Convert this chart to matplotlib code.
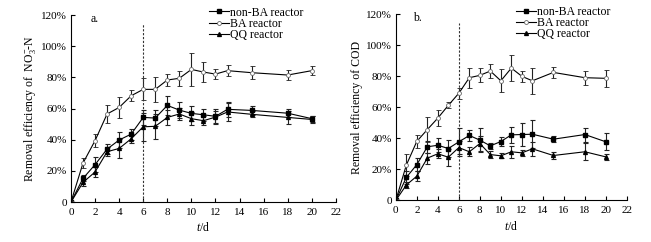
import matplotlib
matplotlib.use("Agg")
import matplotlib.pyplot as plt
import numpy as np

plt.rcParams['font.family'] = ['Liberation Serif', 'DejaVu Serif']
plt.rcParams['mathtext.fontset'] = 'custom'
plt.rcParams['mathtext.rm'] = 'Liberation Serif'
plt.rcParams['mathtext.it'] = 'Liberation Serif:italic'

t = [0, 1, 2, 3, 4, 5, 6, 7, 8, 9, 10, 11, 12, 13, 15, 18, 20]

# Panel a: NO3--N removal (%)
a_nonba = [0, 15.2, 24, 34, 39.8, 43.6, 54.3, 53.9, 62, 59, 56.9, 56, 55, 59.5, 58.8, 57, 53.5]
a_nonba_err = [0, 2, 5, 3, 5, 3.5, 5, 5, 6, 5, 5, 4, 5, 5, 3, 2.5, 2]
a_ba = [0, 25, 39.4, 56.5, 60.7, 68.2, 72.3, 72.3, 78.3, 79.4, 85.1, 83.4, 82.1, 84.3, 83, 81.5, 84.3]
a_ba_err = [0, 3, 4, 5.8, 7, 3.4, 7, 8, 4, 5, 10.5, 6.4, 3.2, 3.6, 4, 3.4, 2.8]
a_qq = [0, 12.6, 19.3, 32.3, 34.4, 40.6, 48.3, 48.6, 54.3, 56.5, 53.5, 52.2, 54.5, 57.8, 56.3, 54.3, 53]
a_qq_err = [0, 2, 3.5, 3, 6, 3, 9, 8, 5, 4, 4, 3, 4, 6, 2, 4, 2]

# Panel b: COD removal (%)
b_nonba = [0, 14.8, 23, 34.5, 35.5, 33.4, 37.7, 41.8, 38.8, 35.1, 37.9, 42.2, 42.4, 42.6, 39.4, 42.4, 37.7]
b_nonba_err = [0, 4, 4, 4, 4.5, 5.5, 9, 3.5, 7.5, 2, 3, 5, 7.5, 9, 2, 4.5, 5.5]
b_ba = [0, 22.7, 38, 45.6, 53, 61.2, 69, 79, 80.5, 83.3, 77, 85.2, 79.9, 77, 82.4, 79, 78.6]
b_ba_err = [0, 7, 4, 8, 5, 2, 3.5, 6.5, 4.5, 4.5, 7.5, 8.5, 3.5, 8.5, 3.5, 4.5, 5.5]
b_qq = [0, 9.9, 15.6, 27.2, 30, 27.8, 34, 31.3, 36.6, 29.5, 28.7, 31.3, 30.6, 33.2, 28.9, 31.3, 28]
b_qq_err = [0, 2, 3, 3.5, 3, 5.5, 4, 3, 5, 2, 1.5, 4, 2, 4.5, 2, 5.5, 2]

labels = ['non-BA reactor', 'BA reactor', 'QQ reactor']
yticks = [0, 20, 40, 60, 80, 100, 120]
ytick_labels = ['0', '20%', '40%', '60%', '80%', '100%', '120%']
xticks = list(range(0, 23, 2))

fig = plt.figure(figsize=(6.51, 2.42), dpi=100)
ax1 = fig.add_axes([0.109, 0.165, 0.407, 0.773])
ax2 = fig.add_axes([0.608, 0.172, 0.355, 0.770])

def draw(ax, nonba, nonba_e, ba, ba_e, qq, qq_e, ylabel, tag):
    kw = dict(color='black', lw=0.8, elinewidth=0.8, capsize=1.8, capthick=0.8, ecolor='#222222')
    c1 = ax.errorbar(t, nonba, yerr=nonba_e, marker='s', ms=2.6, mfc='black', mec='black', **kw)
    c2 = ax.errorbar(t, ba, yerr=ba_e, marker='o', ms=2.8, mfc='white', mec='#666666', mew=0.6, **kw)
    c3 = ax.errorbar(t, qq, yerr=qq_e, marker='^', ms=2.8, mfc='black', mec='black', **kw)
    ax.plot([6, 6], [0, 114], ls=(0, (2, 1.5)), color='#333333', lw=0.8)
    ax.set_xlim(0, 22)
    ax.set_ylim(0, 120)
    ax.set_xticks(xticks)
    ax.set_yticks(yticks)
    ax.set_yticklabels(ytick_labels)
    ax.tick_params(axis='y', direction='in', length=3, width=0.8, labelsize=8, pad=3)
    ax.tick_params(axis='x', direction='in', length=3, width=0.8, labelsize=8, pad=4)
    for s in ['top', 'right']:
        ax.spines[s].set_visible(False)
    for s in ['left', 'bottom']:
        ax.spines[s].set_linewidth(0.8)
    ax.set_xlabel('$t$/d', fontsize=8.5, labelpad=3.5)
    ax.set_ylabel(ylabel, fontsize=8.5, labelpad=2)
    ax.text(1.6, 117.5, tag, fontsize=8.5, ha='left', va='center')
    ax.legend([c1[0], c2[0], c3[0]], labels, loc='upper left', bbox_to_anchor=(0.52, 1.045),
              frameon=False, fontsize=8.5, handlelength=1.7, handletextpad=0.1,
              labelspacing=-0.05, borderaxespad=0.0, borderpad=0.0)

draw(ax1, a_nonba, a_nonba_err, a_ba, a_ba_err, a_qq, a_qq_err,
     r'Removal efficiency of  NO$_3^{-}$-N', 'a.')
draw(ax2, b_nonba, b_nonba_err, b_ba, b_ba_err, b_qq, b_qq_err,
     'Removal efficiency of COD', 'b.')

fig.savefig('out.png', dpi=100)
